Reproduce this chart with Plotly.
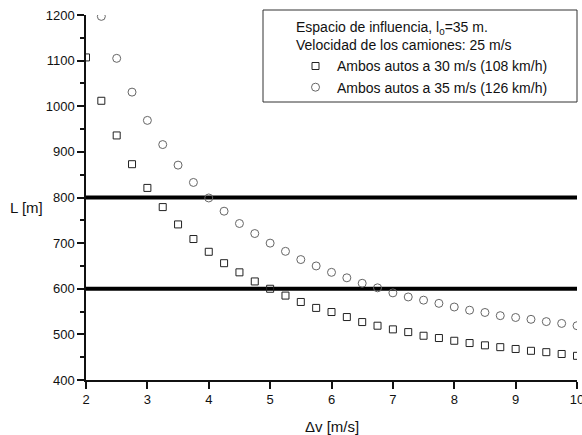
import plotly.graph_objects as go

dv = [2 + 0.25 * i for i in range(33)]
L_30 = [1107, 1012, 936, 873, 821, 779, 741, 709, 681, 656, 636, 616, 600, 585,
        571, 558, 549, 538, 527, 519, 511, 505, 497, 492, 486, 481, 476, 472,
        468, 464, 461, 457, 453]
dv_35 = dv[1:]
L_35 = [1197, 1105, 1031, 969, 916, 871, 833, 799, 770, 743, 721, 700, 682, 664,
        650, 636, 624, 612, 602, 591, 582, 575, 568, 560, 553, 548, 541, 537,
        533, 528, 524, 519]
ref_levels = [800, 600]
name_30 = "Ambos autos a 30 m/s (108 km/h)"
name_35 = "Ambos autos a 35 m/s (126 km/h)"
legend_title = "Espacio de influencia, l<sub>0</sub>=35 m.<br>Velocidad de los camiones: 25 m/s"

FONT = "Liberation Sans, Arial, sans-serif"

fig = go.Figure()
fig.add_trace(go.Scatter(x=dv, y=L_30, mode="markers", name=name_30,
                         marker=dict(symbol="square-open", size=7, color="#222",
                                     line=dict(width=1, color="#222"))))
fig.add_trace(go.Scatter(x=dv_35, y=L_35, mode="markers", name=name_35,
                         marker=dict(symbol="circle-open", size=8, color="#666",
                                     line=dict(width=1, color="#666"))))

for lv in ref_levels:
    fig.add_shape(type="line", xref="x", yref="y", x0=2, x1=10, y0=lv, y1=lv,
                  line=dict(color="black", width=4), layer="below")

# legend frame
fig.add_shape(type="rect", xref="paper", yref="paper",
              x0=(263 - 86) / 491, x1=1.0, y0=(380 - 102) / 365, y1=(380 - 10) / 365,
              line=dict(color="#333", width=1), fillcolor="rgba(0,0,0,0)")

fig.add_annotation(text="L [m]", xref="paper", yref="paper", x=(26 - 86) / 491,
                   y=(380 - 207) / 365, showarrow=False, xanchor="center",
                   yanchor="middle", font=dict(size=15, color="#111", family=FONT))
fig.add_annotation(text="\u0394v [m/s]", xref="paper", yref="paper", x=0.5,
                   y=(380 - 426) / 365, showarrow=False, xanchor="center",
                   yanchor="middle", font=dict(size=15, color="#111", family=FONT))

fig.update_layout(
    width=582, height=435,
    margin=dict(l=86, r=5, t=15, b=55),
    paper_bgcolor="white", plot_bgcolor="white",
    font=dict(family=FONT, size=13, color="#111"),
    showlegend=True,
    legend=dict(x=(294 - 86) / 491, y=(380 - 14) / 365, xanchor="left", yanchor="top",
                bgcolor="rgba(0,0,0,0)", borderwidth=0,
                title=dict(text=legend_title, font=dict(size=14, family=FONT)),
                font=dict(size=14, family=FONT), tracegroupgap=0, itemwidth=33),
    xaxis=dict(range=[2, 10], tickvals=[2, 3, 4, 5, 6, 7, 8, 9, 10],
               showgrid=False, zeroline=False, showline=True, linecolor="#111",
               linewidth=1.5, ticks="outside", ticklen=7, tickwidth=1.5,
               tickcolor="#111", tickfont=dict(size=13, family=FONT),
               ticklabeloverflow="allow", automargin=False),
    yaxis=dict(range=[400, 1200], dtick=100, showgrid=False, zeroline=False,
               showline=True, linecolor="#111", linewidth=1.5, ticks="outside",
               ticklen=7, tickwidth=1.5, tickcolor="#111",
               tickfont=dict(size=13, family=FONT), automargin=False,
               minor=dict(dtick=50, ticks="outside", ticklen=4, tickwidth=1.5,
                          tickcolor="#111", showgrid=False)),
)

fig.write_html("out.html")
